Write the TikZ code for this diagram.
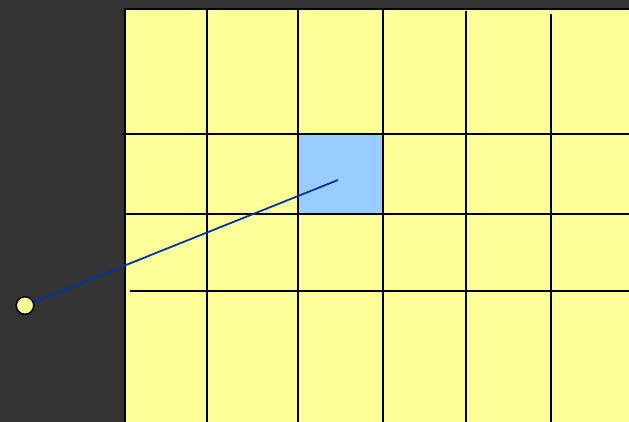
\documentclass[tikz,border=0pt]{standalone}
\definecolor{bg}{HTML}{333333}
\definecolor{pad}{HTML}{FFFF99}
\definecolor{cell}{HTML}{99CCFF}
\definecolor{wire}{HTML}{0033AA}
\begin{document}
\begin{tikzpicture}[x=1pt,y=-1pt,
  gridline/.style={black,line width=1.8pt},
  pin/.style={circle,draw=black,fill=pad,line width=1.5pt,minimum size=17.5pt,inner sep=0pt}]
\useasboundingbox (0,0) rectangle (629,422);
\fill[bg] (0,0) rectangle (629,422);
\clip (0,0) rectangle (629,422);
\fill[pad] (125,9) rectangle (640,440);
\fill[cell] (298,134) rectangle (383,214);
\draw[black,line width=2.2pt] (125,440) -- (125,9) -- (640,9);
\draw[gridline] (207,9) -- (207,422);
\draw[gridline] (298,9) -- (298,422);
\draw[gridline] (383,9) -- (383,422);
\draw[gridline] (466,11.5) -- (466,422);
\draw[gridline] (551,14) -- (551,422);
\draw[gridline] (122,134) -- (629,134);
\draw[gridline] (125,214) -- (629,214);
\draw[gridline] (130,291) -- (629,291);
\node[pin] (p) at (25,305.5) {};
\coordinate (e) at (338,180);
\draw[wire,line width=1.8pt] (p) -- (e);
\end{tikzpicture}
\end{document}
